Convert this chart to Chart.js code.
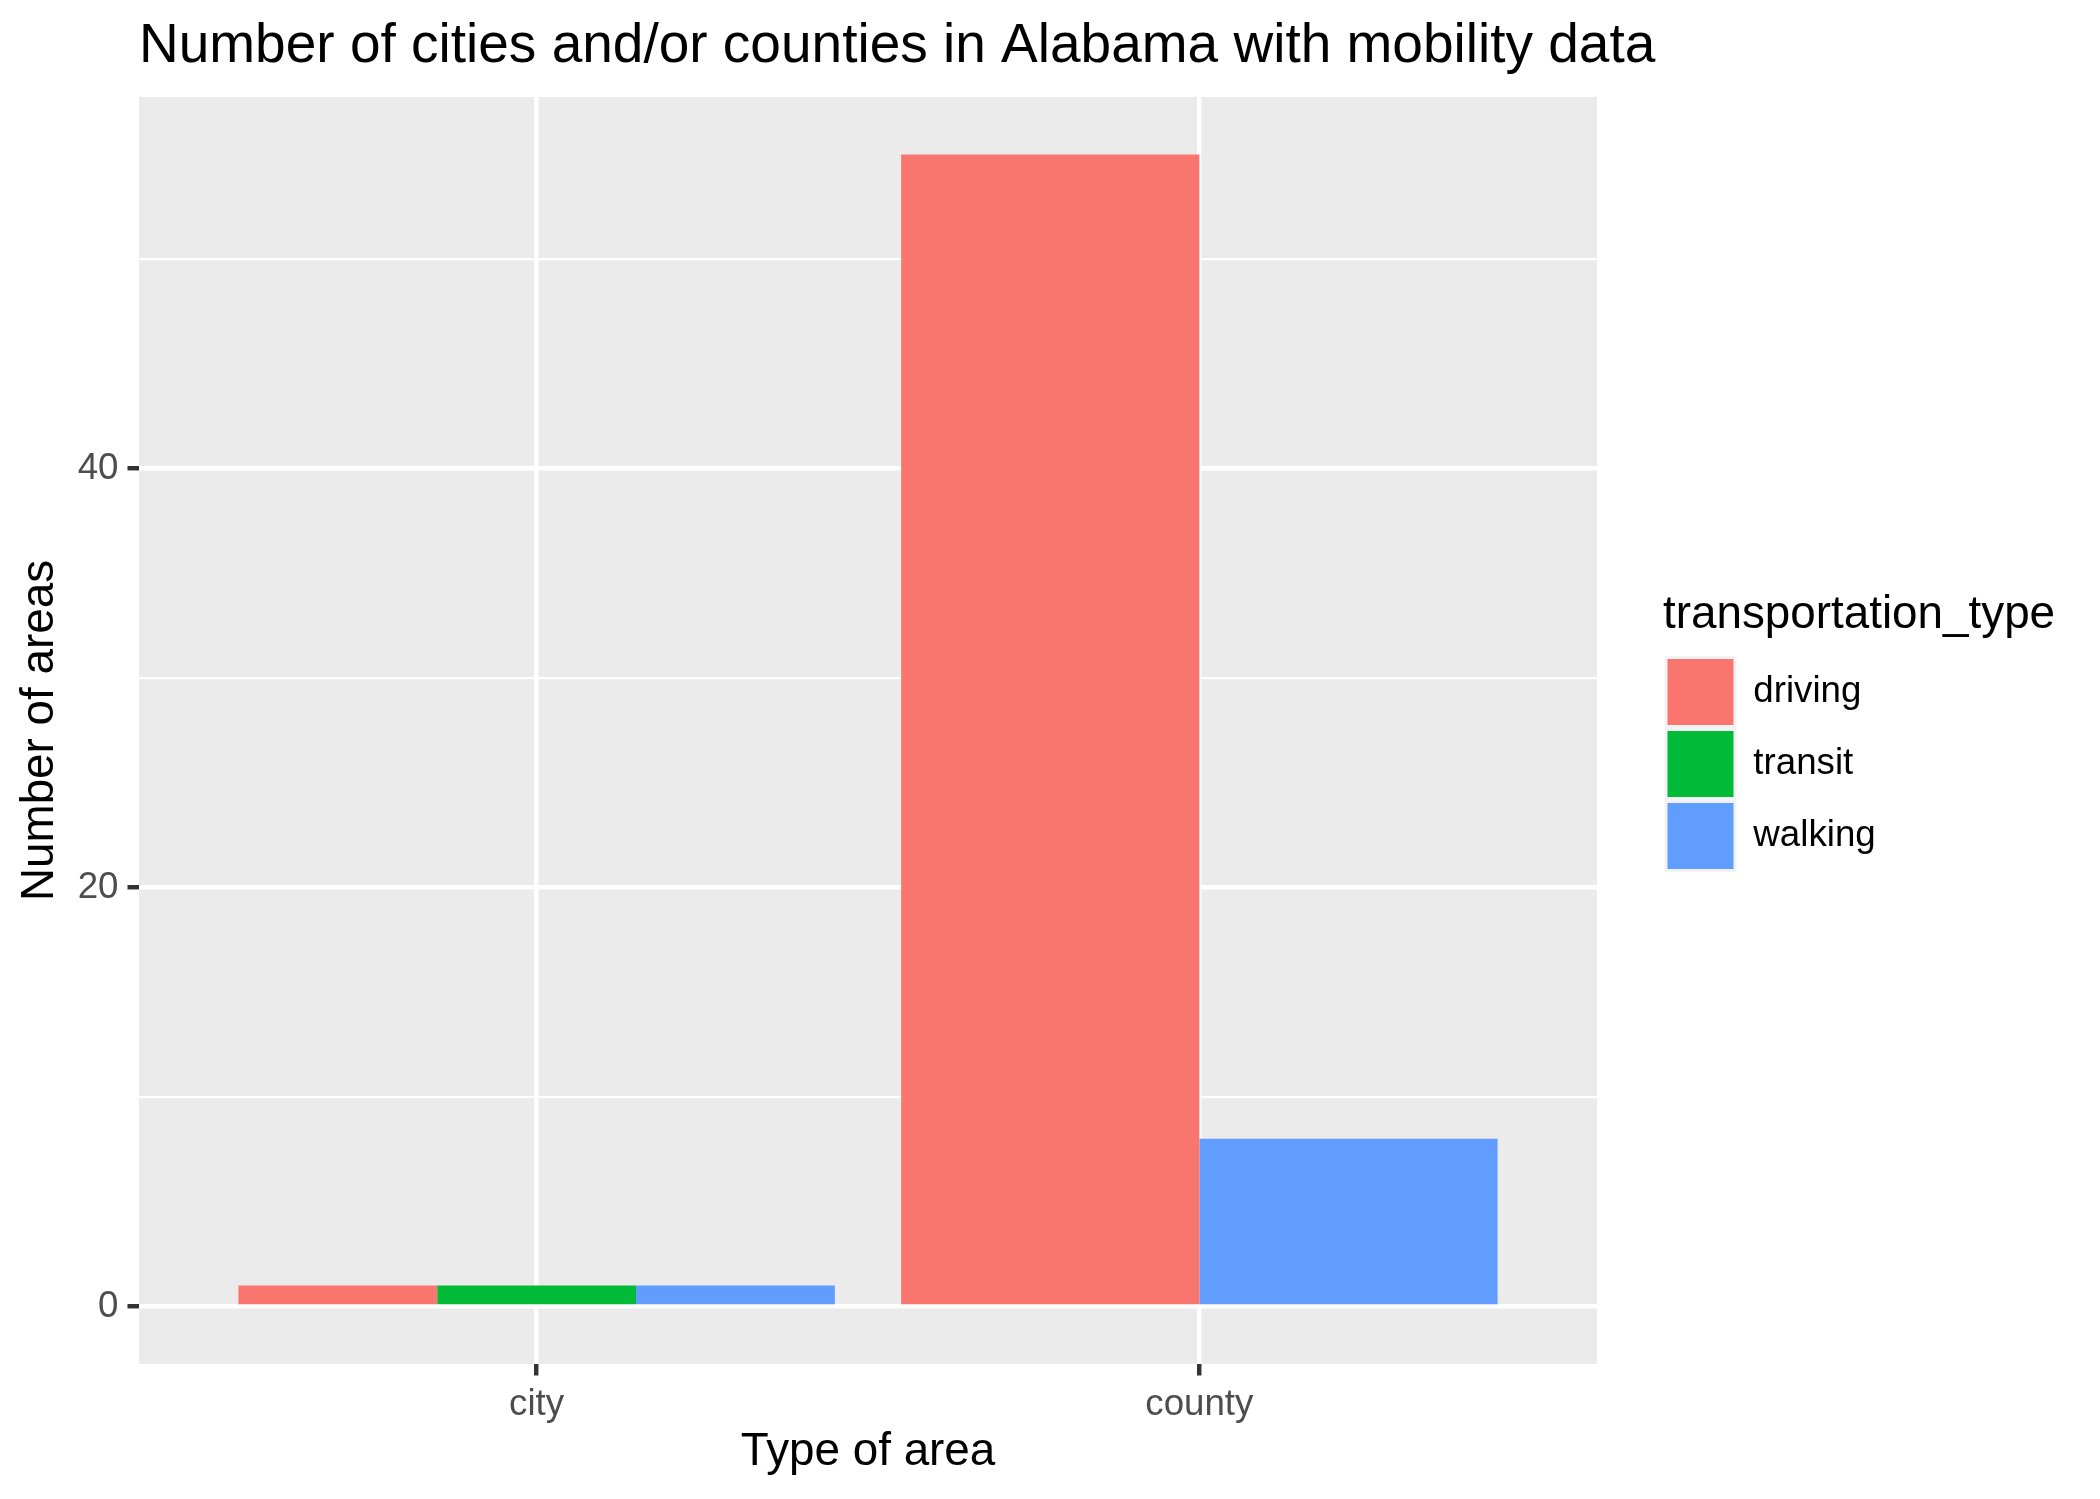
<!DOCTYPE html>
<html>
<head>
<meta charset="utf-8">
<script src="https://cdn.jsdelivr.net/npm/chart.js@4"></script>
<style>
  html, body { margin: 0; padding: 0; background: #fff; }
</style>
</head>
<body>
<canvas id="mobilityChart" width="2100" height="1499"></canvas>
<script>
var categories = ['city', 'county'];
var transportTypes = ['driving', 'transit', 'walking'];
var drivingCounts = [1, 55];
var transitCounts = [1, null];
var walkingCounts = [1, 8];
var typeColors = ['#F8766D', '#00BA38', '#619CFF'];
var yTickValues = [0, 10, 20, 30, 40, 50];
var yLabelStep = 20;

Chart.defaults.font.family = "'Liberation Sans', Arial, Helvetica, sans-serif";

var seriesCounts = [drivingCounts, transitCounts, walkingCounts];
var datasets = transportTypes.map(function(name, k) {
    return {
        label: name,
        data: seriesCounts[k].map(function(v, i) { return { x: i + 1, y: v }; }),
        backgroundColor: typeColors[k],
        borderWidth: 0,
        skipNull: true,
        categoryPercentage: 0.9,
        barPercentage: 1.0
    };
});

// grey ggplot panel, title allowed past the panel, legend a little away from it
var ggPanel = {
    id: 'ggPanel',
    afterLayout: function(chart) {
        var lg = chart.legend, tb = chart.titleBlock, a = chart.chartArea;
        lg.left = a.right + 66;
        lg.right = chart.width;
        lg.width = lg.right - lg.left;
        lg.top = a.top;
        lg.bottom = a.bottom;
        lg.height = lg.bottom - lg.top;
        tb.right = chart.width;
        tb.width = tb.right - tb.left;
    },
    beforeDraw: function(chart) {
        var a = chart.chartArea, ctx = chart.ctx;
        ctx.save();
        ctx.fillStyle = '#EBEBEB';
        ctx.fillRect(a.left, a.top, a.right - a.left, a.bottom - a.top);
        ctx.restore();
    }
};

var isMajor = function(c) { return c.tick && c.tick.value % yLabelStep === 0; };

new Chart(document.getElementById('mobilityChart'), {
    type: 'bar',
    data: { datasets: datasets },
    plugins: [ggPanel],
    options: {
        responsive: false,
        animation: false,
        events: [],
        layout: { padding: { left: 0, right: 303, top: 0, bottom: 0 } },
        scales: {
            x: {
                type: 'linear',
                min: 0.4,
                max: 2.6,
                offset: false,
                afterBuildTicks: function(axis) {
                    axis.ticks = categories.map(function(c, i) { return { value: i + 1 }; });
                },
                afterFit: function(axis) { axis.height = 135; },
                ticks: {
                    autoSkip: false,
                    maxRotation: 0,
                    padding: 7,
                    color: '#4D4D4D',
                    font: { size: 36.7 },
                    callback: function(v) { return categories[v - 1]; }
                },
                grid: {
                    offset: false,
                    color: '#FFFFFF',
                    lineWidth: 4.45,
                    tickColor: '#333333',
                    tickWidth: 4.45,
                    tickLength: 11.5
                },
                border: { display: false },
                title: {
                    display: true,
                    text: 'Type of area',
                    color: '#000000',
                    font: { size: 45.8 },
                    padding: { top: 0, bottom: 19 }
                }
            },
            y: {
                min: -2.75,
                max: 57.75,
                afterBuildTicks: function(axis) {
                    axis.ticks = yTickValues.map(function(v) { return { value: v }; });
                },
                afterFit: function(axis) { axis.width = 139; },
                ticks: {
                    autoSkip: false,
                    padding: 9,
                    color: '#4D4D4D',
                    font: { size: 36.7 },
                    callback: function(v) { return v % yLabelStep === 0 ? String(v) : ''; }
                },
                grid: {
                    color: '#FFFFFF',
                    lineWidth: function(c) { return isMajor(c) ? 4.45 : 2.2; },
                    tickColor: function(c) { return isMajor(c) ? '#333333' : 'rgba(0,0,0,0)'; },
                    tickWidth: 4.45,
                    tickLength: 11.5
                },
                border: { display: false },
                title: {
                    display: true,
                    text: 'Number of areas',
                    color: '#000000',
                    font: { size: 45.8 },
                    padding: { top: 12.6, bottom: 0 }
                }
            }
        },
        plugins: {
            title: {
                display: true,
                text: 'Number of cities and/or counties in Alabama with mobility data',
                align: 'start',
                fullSize: false,
                color: '#000000',
                font: { size: 55, weight: 'normal' },
                padding: { top: 14, bottom: 17 }
            },
            legend: {
                position: 'right',
                align: 'center',
                maxWidth: 200,
                title: {
                    display: true,
                    text: 'transportation_type',
                    position: 'start',
                    color: '#000000',
                    font: { size: 45.8 },
                    padding: { top: 5, bottom: 7 }
                },
                labels: {
                    boxWidth: 69,
                    boxHeight: 69,
                    padding: 3,
                    color: '#000000',
                    font: { size: 36.7 },
                    generateLabels: function(chart) {
                        return Chart.defaults.plugins.legend.labels.generateLabels(chart).map(function(item) {
                            item.strokeStyle = '#F2F2F2';
                            item.lineWidth = 3;
                            return item;
                        });
                    }
                }
            },
            tooltip: { enabled: false }
        }
    }
});
</script>
</body>
</html>
